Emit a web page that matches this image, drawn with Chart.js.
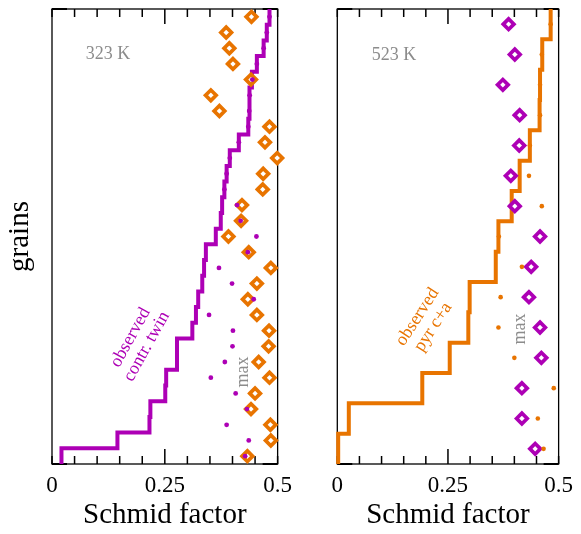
<!DOCTYPE html>
<html>
<head>
<meta charset="utf-8">
<script src="https://cdn.jsdelivr.net/npm/chart.js@4/dist/chart.umd.min.js"></script>
<style>
  html, body { margin: 0; padding: 0; background: #fff; }
  #wrap { position: relative; width: 581px; height: 534px; background: #fff; }
  canvas { position: absolute; top: 0; }
</style>
</head>
<body>
<div id="wrap">
  <canvas id="left" width="300" height="534" style="left:0px"></canvas>
  <canvas id="right" width="281" height="534" style="left:300px"></canvas>
</div>
<script>
// ---------------- data ----------------
// Left panel (323 K): grains ordered bottom (1) to top (29)
const leftObserved = [0.021,0.145,0.216,0.218,0.251,0.253,0.277,0.277,0.311,0.319,0.324,0.333,0.337,0.341,0.363,0.374,0.377,0.382,0.387,0.394,0.414,0.435,0.437,0.438,0.443,0.454,0.469,0.476,0.482];
const leftMax      = [0.433,0.485,0.484,0.441,0.450,0.482,0.458,0.480,0.481,0.454,0.434,0.454,0.485,0.436,0.391,0.419,0.421,0.467,0.468,0.499,0.472,0.482,0.371,0.352,0.441,0.401,0.393,0.386,0.442];
const leftDots     = [0.428,0.436,0.387,0.432,0.407,0.352,0.383,0.400,0.401,0.348,0.447,0.399,0.370,0.434,0.453,0.418,0.410,0.382,0.387,0.394,0.414,0.435,0.437,0.438,0.444,0.454,0.469,0.476,0.482];

// Right panel (523 K): grains ordered bottom (1) to top (15)
const rightObserved = [0.002,0.026,0.192,0.254,0.296,0.299,0.358,0.364,0.394,0.412,0.435,0.457,0.458,0.463,0.482];
const rightMax      = [0.447,0.417,0.417,0.461,0.458,0.433,0.438,0.458,0.401,0.392,0.411,0.412,0.374,0.401,0.387];
const rightDots     = [0.466,0.453,0.489,0.400,0.364,0.369,0.417,0.365,0.462,0.433,0.435,0.458,0.458,0.462,0.482];

const xTickLabels = [0, 0.25, 0.5];
const xMinorTicks = [0,0.05,0.1,0.15,0.2,0.25,0.3,0.35,0.4,0.45,0.5];
const xMajorTick = 0.25;

// ---------------- styles ----------------
const PURPLE = '#ad00b5';
const ORANGE = '#e87400';
const GRAY = '#8c8c8c';
const SERIF = "'Liberation Serif', 'DejaVu Serif', serif";

const leftNotes = [
  {lines:['323 K'], x:0.124, y:26.59, rot:0, color:GRAY},
  {lines:['observed','contr. twin'], x:0.192, y:8.28, rot:-61, color:PURPLE},
  {lines:['max'], x:0.423, y:6.37, rot:-90, color:GRAY}
];
const rightNotes = [
  {lines:['523 K'], x:0.128, y:13.99, rot:0, color:GRAY},
  {lines:['observed','pyr c+a'], x:0.199, y:5.18, rot:-57, color:ORANGE},
  {lines:['max'], x:0.413, y:4.95, rot:-90, color:GRAY}
];

function stepPoints(vals) {
  const pts = [];
  vals.forEach((v, i) => { pts.push({x:v, y:i + 0.5}); pts.push({x:v, y:i + 1.5}); });
  return pts;
}
function rowPoints(vals) { return vals.map((v, i) => ({x:v, y:i + 1})); }

const framePlugin = {
  id: 'frame',
  beforeDatasetsDraw(chart) {
    const {ctx, chartArea: a} = chart;
    const x = chart.scales.x;
    ctx.save();
    ctx.strokeStyle = '#000';
    ctx.lineWidth = 1.3;
    ctx.strokeRect(a.left, a.top, a.right - a.left, a.bottom - a.top);
    ctx.lineWidth = 1.5;
    xMinorTicks.forEach(v => {
      const px = x.getPixelForValue(v);
      const len = Math.abs(v - xMajorTick) < 1e-9 ? 15 : 8;
      ctx.beginPath();
      ctx.moveTo(px, a.bottom); ctx.lineTo(px, a.bottom - len);
      ctx.moveTo(px, a.top); ctx.lineTo(px, a.top + len);
      ctx.stroke();
    });
    ctx.lineWidth = 2;
    [a.top, a.bottom].forEach(py => {
      ctx.beginPath();
      ctx.moveTo(a.left, py); ctx.lineTo(a.left + 15, py);
      ctx.moveTo(a.right, py); ctx.lineTo(a.right - 15, py);
      ctx.stroke();
    });
    ctx.restore();
  }
};

const notesPlugin = {
  id: 'notes',
  afterDatasetsDraw(chart, args, opts) {
    const {ctx} = chart;
    const x = chart.scales.x, y = chart.scales.y;
    ctx.save();
    ctx.font = '18px ' + SERIF;
    ctx.textAlign = 'center';
    ctx.textBaseline = 'middle';
    (opts.items || []).forEach(n => {
      ctx.save();
      ctx.translate(x.getPixelForValue(n.x), y.getPixelForValue(n.y));
      ctx.rotate(n.rot * Math.PI / 180);
      ctx.fillStyle = n.color;
      const lh = 18.6, k = n.lines.length;
      n.lines.forEach((t, i) => ctx.fillText(t, 0, (i - (k - 1) / 2) * lh));
      ctx.restore();
    });
    ctx.restore();
  }
};

function makeChart(id, observed, maxVals, dots, lineColor, markColor, dotRadius, notes, isLeft) {
  const n = observed.length;
  return new Chart(document.getElementById(id), {
    type: 'scatter',
    data: {
      datasets: [
        { data: rowPoints(dots), pointStyle: 'circle', pointRadius: dotRadius, pointHoverRadius: dotRadius,
          backgroundColor: lineColor, borderColor: lineColor, borderWidth: 0, showLine: false, clip: false, order: 1 },
        { data: rowPoints(maxVals), pointStyle: 'rectRot', pointRadius: 5.3, pointHoverRadius: 5.3,
          backgroundColor: '#fff', borderColor: markColor, borderWidth: 3.7, showLine: false, clip: false, order: 2 },
        { data: stepPoints(observed), showLine: true, pointRadius: 0, borderColor: lineColor, borderWidth: 4,
          borderJoinStyle: 'miter', borderCapStyle: 'butt', tension: 0, fill: false, clip: false, order: 3 }
      ]
    },
    options: {
      responsive: false,
      animation: false,
      events: [],
      layout: { padding: isLeft ? {top: 9, right: 20.7, bottom: 0, left: 0} : {top: 9, right: 15.3, bottom: 0, left: 0} },
      plugins: { legend: {display: false}, tooltip: {enabled: false}, notes: {items: notes} },
      scales: {
        x: {
          type: 'linear', position: 'bottom', min: 0, max: 0.5,
          afterBuildTicks: s => { s.ticks = xTickLabels.map(v => ({value: v})); },
          afterFit: s => { s.height = 70; },
          grid: {display: false, drawTicks: false},
          border: {display: false},
          ticks: { autoSkip: false, maxRotation: 0, padding: 8, color: '#000',
                   font: {family: SERIF, size: 23}, callback: v => String(v) },
          title: { display: true, text: 'Schmid factor', color: '#000',
                   font: {family: SERIF, size: 29}, padding: {top: 0, bottom: 1} }
        },
        y: {
          type: 'linear', min: 0.5, max: n + 0.5, display: true,
          afterFit: s => { s.width = isLeft ? 52 : 37.3; },
          grid: {display: false, drawTicks: false},
          border: {display: false},
          ticks: {display: false},
          title: { display: isLeft, text: 'grains', color: '#000',
                   font: {family: SERIF, size: 29}, padding: {top: 3, bottom: 0} }
        }
      }
    },
    plugins: [framePlugin, notesPlugin]
  });
}

makeChart('left', leftObserved, leftMax, leftDots, PURPLE, ORANGE, 2.4, leftNotes, true);
makeChart('right', rightObserved, rightMax, rightDots, ORANGE, PURPLE, 2.3, rightNotes, false);
</script>
</body>
</html>
